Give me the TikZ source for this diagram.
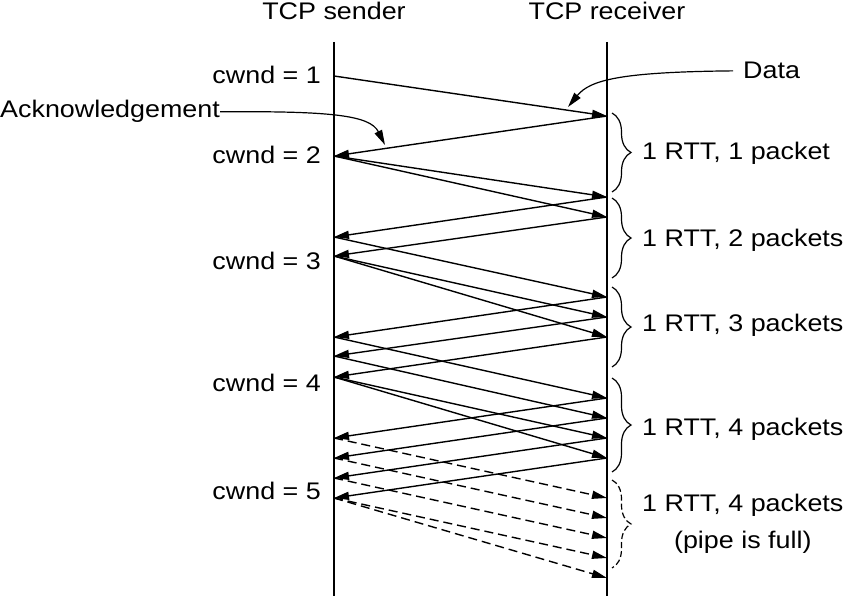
\documentclass[tikz,border=0pt]{standalone}
\usepackage{fontspec}
\setmainfont{Liberation Sans}[FakeStretch=1.12]
\usetikzlibrary{arrows.meta,decorations.pathreplacing}
\tikzset{
  msg/.style={line width=1.4pt,-{Triangle[length=15pt,width=8pt]}},
  pipefull/.style={msg,dash pattern=on 9pt off 5pt},
  rtt/.style={line width=1.2pt,decorate,decoration={brace,amplitude=19pt}},
  lbl/.style={inner sep=0pt,font=\fontsize{24}{28}\selectfont},
}
\begin{document}
\begin{tikzpicture}[x=1pt,y=-1pt]
    \useasboundingbox (0,0) rectangle (848,596);
    % the two hosts
    \node [lbl,anchor=base] (sender) at (334,20) {TCP sender};
    \node [lbl,anchor=base] (receiver) at (607,20) {TCP receiver};
    \coordinate (stop) at (334,42);
    \coordinate (sbot) at (334,596);
    \coordinate (rtop) at (607,42);
    \coordinate (rbot) at (607,596);
    \draw [line width=1.6pt] (stop)--(sbot);
    \draw [line width=1.6pt] (rtop)--(rbot);
    % times on the two lines
    \foreach \t in {76,156,237,256,337,356,377,438,458,478,498}
    \coordinate (s\t) at (334,\t);
    \foreach \t in {116,197,217,297,317,337,398,418,438,458,498,518,538,558,578}
    \coordinate (r\t) at (607,\t);
    % data, acks, and the full pipe
    \foreach \a/\b in {76/116,156/197,156/217,237/297,256/317,256/337,337/398,356/418,377/438,377/458}
    \draw [msg] (s\a)--(r\b);
    \foreach \a/\b in {116/156,197/237,217/256,297/337,317/356,337/377,398/438,418/458,438/478,458/498}
    \draw [msg] (r\a)--(s\b);
    \foreach \a/\b in {438/498,458/518,478/538,498/558,498/578}
    \draw [pipefull] (s\a)--(r\b);
    % window sizes
    \node [lbl,anchor=base east] (w1) at (321,84) {cwnd = 1};
    \node [lbl,anchor=base east] (w2) at (321,164) {cwnd = 2};
    \node [lbl,anchor=base east] (w3) at (321,269) {cwnd = 3};
    \node [lbl,anchor=base east] (w4) at (321,391) {cwnd = 4};
    \node [lbl,anchor=base east] (w5) at (321,499) {cwnd = 5};
    % round trips
    \foreach \a/\b in {113/192,198/278,287/367,378/472}
    \draw [rtt] (612,\a)--(612,\b);
    \draw [rtt,dash pattern=on 6pt off 3pt] (612,480)--(612,568);
    \node [lbl,anchor=base west] (n1) at (642,160) {1 RTT, 1 packet};
    \node [lbl,anchor=base west] (n2) at (642,246) {1 RTT, 2 packets};
    \node [lbl,anchor=base west] (n3) at (642,331) {1 RTT, 3 packets};
    \node [lbl,anchor=base west] (n4) at (642,435) {1 RTT, 4 packets};
    \node [lbl,anchor=base west] (n5) at (642,511) {1 RTT, 4 packets};
    \node [lbl,anchor=base] (pipe) at ([yshift=-37pt]n5.base) {(pipe is full)};
    % callouts
    \node [lbl,anchor=base west] (data) at (743,79) {Data};
    \node [lbl,anchor=base west] (ack) at (0,118) {Acknowledgement};
    \draw [msg,line width=1.2pt] ([xshift=-10pt]data.west) .. controls (620,72) and (590,80) .. (568,107);
    \draw [msg,line width=1.2pt] (ack.east) .. controls (330,111) and (370,115) .. (385,145);
  \end{tikzpicture}
\end{document}
